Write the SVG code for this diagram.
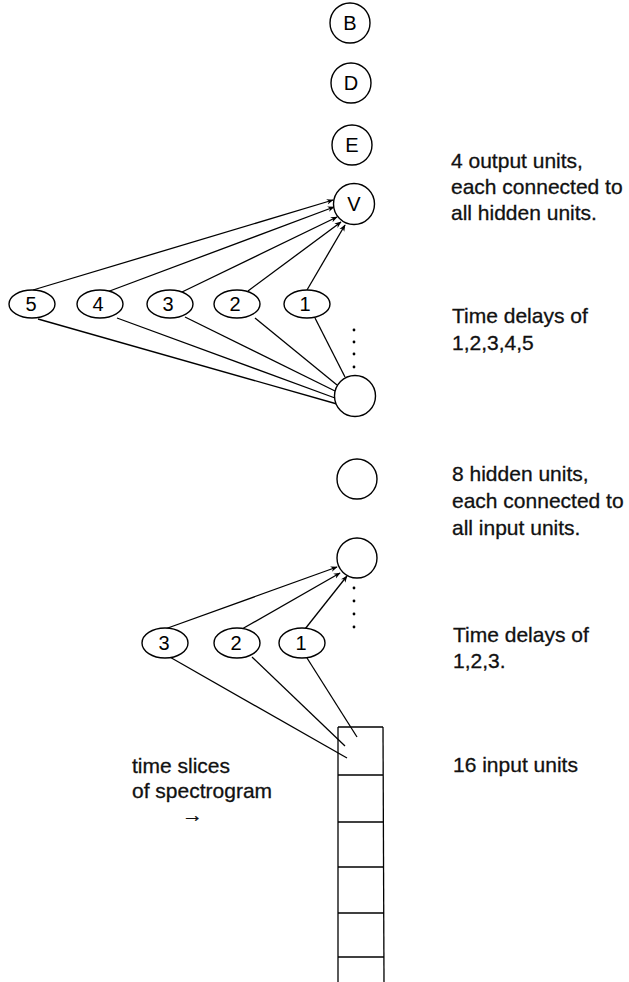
<svg xmlns="http://www.w3.org/2000/svg" width="629" height="982" viewBox="0 0 629 982">
<defs>
<marker id="arr" viewBox="0 0 10 10" refX="9" refY="5" markerWidth="7" markerHeight="7" orient="auto" markerUnits="userSpaceOnUse">
<path d="M0,1 L10,5 L0,9 L3,5 Z" fill="#000"/>
</marker>
<style>
.u{fill:#fff;stroke:#000;stroke-width:1.4}
.h{font-family:"Liberation Sans","DejaVu Sans",sans-serif;font-size:20px;fill:#000;text-anchor:middle}
.t{font-family:"Liberation Sans",Arial,sans-serif;font-size:21px;fill:#111;stroke:#111;stroke-width:0.3}
.c line{stroke:#000;stroke-width:1.3}
.a{marker-end:url(#arr)}
.d{fill:#000}
</style>
</defs>
<rect width="629" height="982" fill="#fff"/>

<g class="c" id="connectors">
<line class="a" x1="33" y1="290" x2="333" y2="200"/>
<line class="a" x1="107" y1="292" x2="334" y2="207"/>
<line class="a" x1="182" y1="292" x2="337" y2="217"/>
<line class="a" x1="248" y1="291" x2="341" y2="222"/>
<line class="a" x1="307" y1="290" x2="345" y2="225"/>
<line x1="38" y1="319" x2="337" y2="404"/>
<line x1="117" y1="318" x2="335" y2="398"/>
<line x1="185" y1="317" x2="335" y2="391"/>
<line x1="255" y1="318" x2="337" y2="385"/>
<line x1="315" y1="318" x2="345" y2="377"/>
<line class="a" x1="165" y1="629" x2="337" y2="567"/>
<line class="a" x1="242" y1="629" x2="340" y2="573"/>
<line class="a" x1="305" y1="629" x2="347" y2="576"/>
<line x1="168" y1="656" x2="347" y2="758"/>
<line x1="252" y1="657" x2="345" y2="746"/>
<line x1="307" y1="658" x2="357" y2="737"/>
</g>

<g id="out-B"><circle class="u" cx="350" cy="23" r="20"/><text class="h" x="350" y="30">B</text></g>
<g id="out-D"><circle class="u" cx="351" cy="83" r="20"/><text class="h" x="351" y="90">D</text></g>
<g id="out-E"><circle class="u" cx="352" cy="145" r="20"/><text class="h" x="352" y="152">E</text></g>
<g id="out-V"><circle class="u" cx="354" cy="204" r="20.5"/><text class="h" x="354" y="211">V</text></g>

<g id="delay5"><ellipse class="u" cx="32" cy="304" rx="23" ry="14"/><text class="h" x="31" y="311">5</text></g>
<g id="delay4"><ellipse class="u" cx="100" cy="304" rx="23" ry="14"/><text class="h" x="98" y="311">4</text></g>
<g id="delay3"><ellipse class="u" cx="170" cy="304" rx="23" ry="14"/><text class="h" x="168" y="311">3</text></g>
<g id="delay2"><ellipse class="u" cx="237" cy="304" rx="23" ry="14"/><text class="h" x="235" y="311">2</text></g>
<g id="delay1"><ellipse class="u" cx="307" cy="304" rx="23" ry="14"/><text class="h" x="305" y="311">1</text></g>

<g id="dots-top"><circle class="d" cx="354" cy="330" r="1.4"/><circle class="d" cx="354" cy="342" r="1.4"/><circle class="d" cx="354" cy="354" r="1.4"/><circle class="d" cx="354" cy="367" r="1.4"/></g>

<g id="hidden-1"><circle class="u" cx="355" cy="396" r="20.5"/></g>
<g id="hidden-2"><circle class="u" cx="357" cy="479" r="20"/></g>
<g id="hidden-3"><circle class="u" cx="357" cy="558" r="20"/></g>

<g id="dots-bottom"><circle class="d" cx="354" cy="588" r="1.4"/><circle class="d" cx="354" cy="601" r="1.4"/><circle class="d" cx="354" cy="614" r="1.4"/><circle class="d" cx="354" cy="627" r="1.4"/></g>

<g id="idelay3"><ellipse class="u" cx="165" cy="643" rx="23" ry="15"/><text class="h" x="164" y="650">3</text></g>
<g id="idelay2"><ellipse class="u" cx="237" cy="643" rx="23" ry="15"/><text class="h" x="236" y="650">2</text></g>
<g id="idelay1"><ellipse class="u" cx="302" cy="643" rx="23" ry="15"/><text class="h" x="301" y="650">1</text></g>

<g id="input-column" fill="none" stroke="#000" stroke-width="1.3">
<line x1="338" y1="727" x2="338" y2="982"/>
<line x1="383" y1="727" x2="384" y2="982"/>
<line x1="338" y1="727" x2="383" y2="727"/>
<line x1="338" y1="775" x2="383" y2="775"/>
<line x1="338" y1="822" x2="383" y2="822"/>
<line x1="338" y1="867" x2="384" y2="867"/>
<line x1="338" y1="913" x2="384" y2="913"/>
<line x1="338" y1="957" x2="384" y2="957"/>
</g>

<g id="labels">
<text class="t" x="451" y="168">4 output units,</text>
<text class="t" x="451" y="194">each connected to</text>
<text class="t" x="451" y="220">all hidden units.</text>
<text class="t" x="452" y="323">Time delays of</text>
<text class="t" x="452" y="350">1,2,3,4,5</text>
<text class="t" x="452" y="481">8 hidden units,</text>
<text class="t" x="452" y="508">each connected to</text>
<text class="t" x="452" y="535">all input units.</text>
<text class="t" x="453" y="642">Time delays of</text>
<text class="t" x="453" y="668">1,2,3.</text>
<text class="t" x="453" y="772">16 input units</text>
<text class="t" x="132" y="773">time slices</text>
<text class="t" x="132" y="798">of spectrogram</text>
<text class="t" x="182" y="822">→</text>
</g>
</svg>
